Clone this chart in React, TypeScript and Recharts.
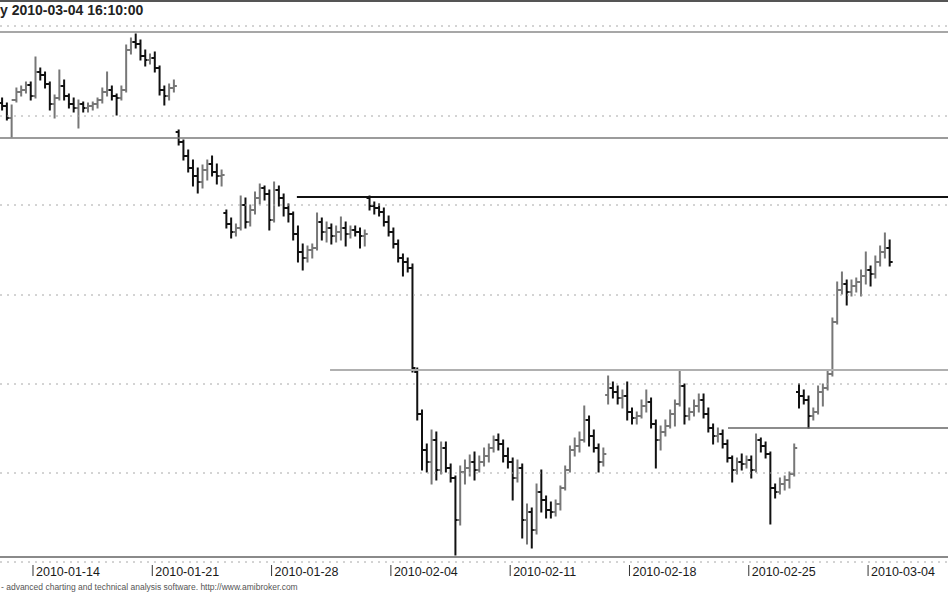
import React from "react";
import { ComposedChart, Bar, XAxis, YAxis, ReferenceLine } from "recharts";

// hourly-ish bars, 5 per trading day, first bar a little before 2010-01-14
const BARS_PER_DAY = 5;
const FIRST_BAR = -1.3;

const opens = [
  92.97, 92.94, 92.82, 93.0, 93.08, 93.1, 93.15, 93.04, 93.28, 93.25, 93.16, 92.96, 93.02, 93.14, 93.04, 92.96, 92.92, 92.96, 92.92, 92.94,
  92.96, 93.0, 93.08, 93.1, 93.04, 93.02, 93.1, 93.5, 93.58, 93.56, 93.44, 93.4, 93.42, 93.32, 93.1, 93.04, 93.12, 92.68, 92.58, 92.44,
  92.32, 92.24, 92.18, 92.3, 92.36, 92.28, 92.24, 91.87, 91.76, 91.68, 91.72, 91.95, 91.78, 91.9, 92.02, 92.12, 92.06, 91.8, 92.1, 92.02,
  91.92, 91.86, 91.66, 91.48, 91.42, 91.5, 91.52, 91.78, 91.68, 91.72, 91.64, 91.68, 91.72, 91.66, 91.7, 91.68, 91.64, 92.02, 91.94, 91.92,
  91.88, 91.78, 91.68, 91.56, 91.42, 91.38, 91.32, 90.28, 89.86, 89.5, 89.38, 89.6, 89.3, 89.52, 89.32, 89.22, 88.8, 89.28, 89.32, 89.38,
  89.3, 89.38, 89.44, 89.52, 89.6, 89.56, 89.44, 89.38, 89.22, 89.32, 88.8, 88.88, 88.7, 89.08, 89.0, 88.9, 88.88, 88.96, 89.12, 89.3,
  89.5, 89.54, 89.6, 89.8, 89.64, 89.52, 89.38, 90.05, 90.12, 90.08, 90.02, 90.04, 89.88, 89.82, 89.84, 89.94, 89.98, 89.76, 89.6, 89.68,
  89.74, 89.86, 89.96, 90.14, 89.84, 89.88, 89.94, 90.0, 89.86, 89.72, 89.64, 89.66, 89.56, 89.42, 89.3, 89.38, 89.36, 89.4, 89.3, 89.6,
  89.54, 89.46, 89.12, 89.08, 89.16, 89.2, 89.26, 90.08, 90.04, 90.0, 89.84, 89.88, 90.08, 90.12, 90.26, 90.78, 91.1, 91.16, 91.08, 91.14,
  91.18, 91.24, 91.3, 91.26, 91.38, 91.48, 91.52,
];

const highs = [
  93.02, 92.97, 92.95, 93.12, 93.14, 93.18, 93.18, 93.43, 93.32, 93.28, 93.18, 93.05, 93.3, 93.2, 93.06, 93.02, 93.0, 92.98, 92.97, 92.98,
  93.02, 93.12, 93.28, 93.14, 93.06, 93.14, 93.55, 93.62, 93.66, 93.6, 93.5, 93.46, 93.48, 93.34, 93.14, 93.16, 93.2, 92.7, 92.6, 92.5,
  92.4, 92.32, 92.35, 92.4, 92.44, 92.36, 92.3, 91.9, 91.82, 91.76, 92.04, 92.02, 91.95, 92.08, 92.16, 92.14, 92.1, 92.18, 92.14, 92.06,
  91.96, 91.88, 91.74, 91.56, 91.54, 91.56, 91.87, 91.82, 91.78, 91.76, 91.74, 91.83, 91.78, 91.74, 91.74, 91.72, 91.7, 92.04, 91.98, 91.96,
  91.92, 91.84, 91.72, 91.6, 91.46, 91.42, 91.36, 90.32, 89.9, 89.56, 89.7, 89.68, 89.58, 89.58, 89.36, 89.24, 89.34, 89.4, 89.45, 89.48,
  89.44, 89.52, 89.56, 89.64, 89.66, 89.6, 89.52, 89.42, 89.4, 89.36, 88.96, 88.92, 89.16, 89.3, 89.04, 88.98, 89.0, 89.14, 89.34, 89.54,
  89.62, 89.68, 89.94, 89.84, 89.7, 89.56, 89.52, 90.24, 90.18, 90.14, 90.1, 90.18, 89.92, 89.88, 90.0, 90.1, 90.02, 89.8, 89.74, 89.8,
  89.9, 90.0, 90.3, 90.16, 89.92, 90.0, 90.06, 90.06, 89.92, 89.76, 89.72, 89.7, 89.6, 89.44, 89.42, 89.46, 89.44, 89.44, 89.66, 89.62,
  89.58, 89.48, 89.16, 89.22, 89.24, 89.28, 89.56, 90.16, 90.1, 90.04, 89.92, 90.14, 90.16, 90.3, 90.82, 91.18, 91.28, 91.2, 91.2, 91.22,
  91.3, 91.48, 91.34, 91.44, 91.54, 91.67, 91.6,
];

const lows = [
  92.9, 92.8, 92.63, 92.98, 93.04, 93.07, 93.0, 93.02, 93.2, 93.12, 92.9, 92.82, 93.0, 93.0, 92.92, 92.88, 92.72, 92.88, 92.88, 92.9,
  92.92, 92.97, 93.04, 93.0, 92.85, 93.0, 93.08, 93.46, 93.52, 93.4, 93.34, 93.36, 93.28, 93.05, 92.95, 93.0, 93.08, 92.55, 92.4, 92.28,
  92.14, 92.07, 92.12, 92.2, 92.24, 92.16, 92.14, 91.72, 91.62, 91.64, 91.7, 91.72, 91.74, 91.86, 91.96, 92.0, 91.7, 91.78, 91.94, 91.84,
  91.78, 91.6, 91.38, 91.3, 91.38, 91.42, 91.5, 91.6, 91.58, 91.56, 91.58, 91.6, 91.54, 91.62, 91.64, 91.52, 91.54, 91.9, 91.86, 91.84,
  91.74, 91.64, 91.52, 91.38, 91.24, 91.28, 90.28, 89.8, 89.3, 89.28, 89.16, 89.2, 89.26, 89.28, 89.18, 88.45, 88.75, 89.16, 89.24, 89.2,
  89.28, 89.34, 89.38, 89.48, 89.5, 89.38, 89.32, 89.0, 89.18, 88.62, 88.56, 88.52, 88.66, 88.88, 88.82, 88.82, 88.84, 88.9, 89.1, 89.28,
  89.44, 89.48, 89.58, 89.54, 89.48, 89.28, 89.34, 89.96, 90.02, 89.96, 89.92, 89.8, 89.76, 89.76, 89.82, 89.88, 89.72, 89.32, 89.5, 89.64,
  89.72, 89.74, 89.94, 89.76, 89.8, 89.84, 89.88, 89.82, 89.68, 89.56, 89.58, 89.52, 89.38, 89.18, 89.26, 89.3, 89.32, 89.22, 89.28, 89.48,
  89.42, 88.76, 89.02, 89.06, 89.1, 89.12, 89.24, 89.92, 89.96, 89.72, 89.8, 89.86, 89.94, 90.1, 90.24, 90.76, 91.06, 90.95, 91.04, 91.08,
  91.04, 91.16, 91.14, 91.22, 91.34, 91.42, 91.34,
];

const closes = [
  92.94, 92.82, 93.0, 93.08, 93.1, 93.15, 93.04, 93.28, 93.25, 93.16, 92.96, 93.02, 93.14, 93.04, 92.96, 92.92, 92.96, 92.92, 92.94, 92.96,
  93.0, 93.08, 93.1, 93.04, 93.02, 93.1, 93.5, 93.58, 93.56, 93.44, 93.4, 93.42, 93.32, 93.1, 93.04, 93.12, 93.14, 92.58, 92.44, 92.32,
  92.24, 92.18, 92.3, 92.36, 92.28, 92.24, 92.25, 91.76, 91.68, 91.72, 91.95, 91.78, 91.9, 92.02, 92.12, 92.06, 91.8, 92.1, 92.02, 91.92,
  91.86, 91.66, 91.48, 91.42, 91.5, 91.52, 91.78, 91.68, 91.72, 91.64, 91.68, 91.72, 91.66, 91.7, 91.68, 91.64, 91.66, 91.94, 91.92, 91.88,
  91.78, 91.68, 91.56, 91.42, 91.38, 91.32, 90.32, 89.86, 89.5, 89.38, 89.6, 89.3, 89.52, 89.32, 89.22, 88.8, 89.28, 89.32, 89.38, 89.3,
  89.38, 89.44, 89.52, 89.6, 89.56, 89.44, 89.38, 89.22, 89.32, 88.8, 88.88, 88.7, 89.08, 89.0, 88.9, 88.88, 88.96, 89.12, 89.3, 89.5,
  89.54, 89.6, 89.8, 89.64, 89.52, 89.38, 89.46, 90.12, 90.08, 90.02, 90.04, 89.88, 89.82, 89.84, 89.94, 89.98, 89.76, 89.6, 89.68, 89.74,
  89.86, 89.96, 90.14, 89.84, 89.88, 89.94, 90.0, 89.86, 89.72, 89.64, 89.66, 89.56, 89.42, 89.3, 89.38, 89.36, 89.4, 89.3, 89.6, 89.54,
  89.46, 89.12, 89.08, 89.16, 89.2, 89.26, 89.52, 90.04, 90.0, 89.84, 89.88, 90.08, 90.12, 90.26, 90.78, 91.1, 91.16, 91.08, 91.14, 91.18,
  91.24, 91.3, 91.26, 91.38, 91.48, 91.52, 91.38,
];

// week ticks, in trading days from 2010-01-14
const tickDays = [0, 5, 10, 15, 20, 25, 30, 35];
const tickLabels = ["2010-01-14", "2010-01-21", "2010-01-28", "2010-02-04", "2010-02-11", "2010-02-18", "2010-02-25", "2010-03-04"];

const gridLevels = [93.74, 92.84, 91.95, 91.05, 90.16, 89.27, 88.38];

const data = closes.map((close, i) => ({
  t: FIRST_BAR + i / BARS_PER_DAY,
  open: opens[i],
  high: highs[i],
  low: lows[i],
  close,
}));

const X_DOMAIN: [number, number] = [-1.383, 38.35];
const Y_DOMAIN: [number, number] = [88.36, 94.0];
const FONT = "'Liberation Sans', Arial, sans-serif";

function OhlcBar(props: any) {
  const { x, y, width, height, payload } = props;
  if (x == null || y == null || !payload) return null;
  const cx = x + width / 2;
  const top = Math.min(y, y + height);
  const h = Math.abs(height);
  const span = payload.high - payload.low || 1;
  const yOf = (v: number) => top + ((payload.high - v) / span) * h;
  const up = payload.close >= payload.open;
  return (
    <g stroke={up ? "#777" : "#111"} strokeWidth={2}>
      <line x1={cx} x2={cx} y1={top - 0.5} y2={top + h + 0.5} />
      <line x1={cx - 3} x2={cx} y1={yOf(payload.open)} y2={yOf(payload.open)} />
      <line x1={cx} x2={cx + 3} y1={yOf(payload.close)} y2={yOf(payload.close)} />
    </g>
  );
}

function DateTick(props: any) {
  const { x, y, payload } = props;
  const idx = tickDays.indexOf(payload.value);
  return (
    <g>
      <line x1={x} x2={x} y1={y + 1} y2={y + 12} stroke="#333" strokeWidth={1} />
      <text x={x + 3} y={y + 12} fontSize={12.5} fill="#1a1a1a" fontFamily={FONT}>
        {tickLabels[idx]}
      </text>
    </g>
  );
}

export default function App() {
  return (
    <div style={{ position: "absolute", left: 0, top: 0, width: 948, height: 593, background: "#fff", overflow: "hidden" }}>
      <ComposedChart width={948} height={593} data={data} margin={{ top: 0, right: 0, bottom: 0, left: 0 }}>
        <XAxis
          type="number"
          dataKey="t"
          domain={X_DOMAIN}
          allowDataOverflow
          ticks={tickDays}
          interval={0}
          tick={<DateTick />}
          tickLine={false}
          axisLine={false}
          tickSize={0}
          tickMargin={0}
          height={29}
        />
        <YAxis hide domain={Y_DOMAIN} allowDataOverflow />
        {gridLevels.map((v) => (
          <ReferenceLine key={v} y={v} stroke="#a8a8a8" strokeDasharray="2 5" strokeWidth={1} />
        ))}
        <ReferenceLine y={93.99} stroke="#555" strokeWidth={2} />
        <ReferenceLine y={93.68} stroke="#8a8a8a" strokeWidth={1.5} />
        <ReferenceLine y={92.62} stroke="#7a7a7a" strokeWidth={1.5} />
        <ReferenceLine segment={[{ x: 11.06, y: 92.03 }, { x: 38.35, y: 92.03 }]} stroke="#111" strokeWidth={2} />
        <ReferenceLine segment={[{ x: 12.45, y: 90.3 }, { x: 38.35, y: 90.3 }]} stroke="#b0b0b0" strokeWidth={2} />
        <ReferenceLine segment={[{ x: 29.13, y: 89.72 }, { x: 38.35, y: 89.72 }]} stroke="#666" strokeWidth={1.5} />
        <ReferenceLine y={88.43} stroke="#8a8a8a" strokeWidth={2} />
        <Bar
          dataKey={(d: any) => [d.low, d.high]}
          barSize={3}
          shape={<OhlcBar />}
          isAnimationActive={false}
        />
      </ComposedChart>
      <div
        style={{
          position: "absolute",
          left: 0,
          top: 2,
          fontFamily: FONT,
          fontWeight: "bold",
          fontSize: 14,
          lineHeight: "16px",
          color: "#222",
        }}
      >
        y 2010-03-04 16:10:00
      </div>
      <div
        style={{
          position: "absolute",
          left: 1,
          top: 582,
          fontFamily: FONT,
          fontSize: 8.5,
          lineHeight: "10px",
          color: "#555",
          whiteSpace: "nowrap",
        }}
      >
        - advanced charting and technical analysis software. http://www.amibroker.com
      </div>
    </div>
  );
}
